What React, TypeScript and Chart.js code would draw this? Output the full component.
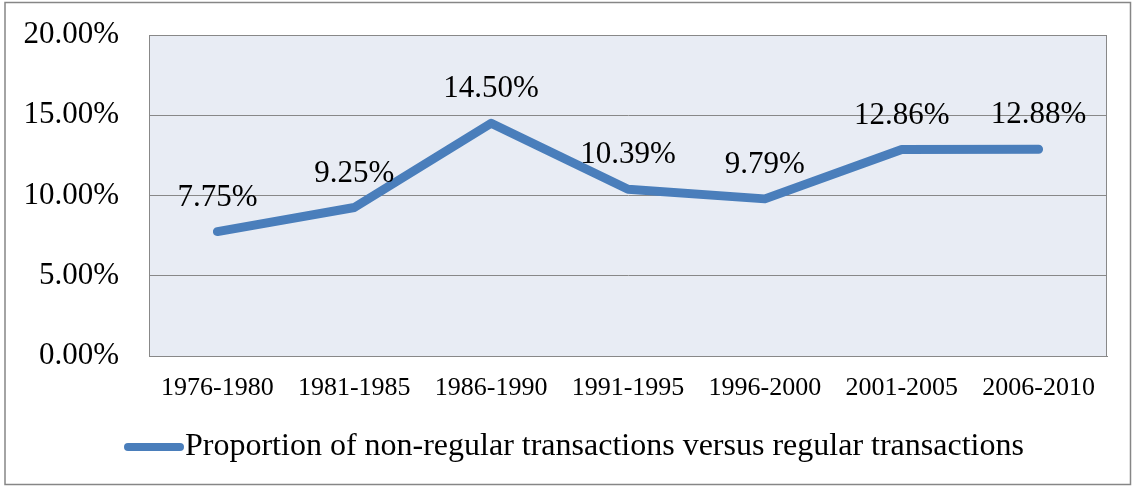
import React, { useEffect, useRef } from "react";
import { Chart, registerables } from "chart.js";

Chart.register(...registerables);

const categories = ["1976-1980", "1981-1985", "1986-1990", "1991-1995", "1996-2000", "2001-2005", "2006-2010"];
const values = [7.75, 9.25, 14.5, 10.39, 9.79, 12.86, 12.88];
const seriesName = "Proportion of non-regular transactions versus regular transactions";
const yTicks = [0, 5, 10, 15, 20];

const LINE_COLOR = "#4A7EBB";
const GRID_COLOR = "#888888";
const PLOT_BG = "#E8ECF4";
const FONT = "'Liberation Serif', 'Times New Roman', serif";

const decorPlugin = {
  id: "decor",
  beforeDraw(chart: any) {
    const { ctx, chartArea } = chart;
    ctx.save();
    ctx.fillStyle = "#ffffff";
    ctx.fillRect(0, 0, chart.width, chart.height);
    ctx.fillStyle = PLOT_BG;
    ctx.fillRect(chartArea.left, chartArea.top, chartArea.right - chartArea.left, chartArea.bottom - chartArea.top);
    ctx.restore();
  },
  afterDraw(chart: any) {
    const { ctx, chartArea } = chart;
    ctx.save();
    // plot border
    ctx.strokeStyle = GRID_COLOR;
    ctx.lineWidth = 1;
    ctx.strokeRect(Math.round(chartArea.left) + 0.5, Math.round(chartArea.top) + 0.5,
      Math.round(chartArea.right - chartArea.left) - 1, Math.round(chartArea.bottom - chartArea.top));
    // outer border
    ctx.strokeStyle = "#868686";
    ctx.lineWidth = 1.5;
    ctx.strokeRect(5, 2.5, 1125.5, 482);
    // data labels
    const meta = chart.getDatasetMeta(0);
    ctx.fillStyle = "#000000";
    ctx.font = `31px ${FONT}`;
    ctx.textAlign = "center";
    ctx.textBaseline = "middle";
    meta.data.forEach((pt: any, i: number) => {
      ctx.fillText(values[i].toFixed(2) + "%", pt.x, pt.y - 34);
    });
    // legend
    const ly = 447;
    ctx.strokeStyle = LINE_COLOR;
    ctx.lineWidth = 8;
    ctx.lineCap = "round";
    ctx.beginPath();
    ctx.moveTo(128, ly);
    ctx.lineTo(180, ly);
    ctx.stroke();
    ctx.textAlign = "left";
    ctx.font = `32px ${FONT}`;
    ctx.fillText(seriesName, 185, ly);
    ctx.restore();
  },
};

export default function App() {
  const ref = useRef<HTMLCanvasElement | null>(null);
  useEffect(() => {
    if (!ref.current) return;
    const chart = new Chart(ref.current, {
      type: "line",
      data: {
        labels: categories,
        datasets: [
          {
            label: seriesName,
            data: values,
            borderColor: LINE_COLOR,
            backgroundColor: LINE_COLOR,
            borderWidth: 9,
            pointRadius: 0,
            borderCapStyle: "round",
            borderJoinStyle: "round",
            tension: 0,
          },
        ],
      },
      options: {
        animation: false,
        responsive: false,
        maintainAspectRatio: false,
        layout: { padding: { left: 0, top: 35, right: 29, bottom: 72 } },
        plugins: { legend: { display: false }, tooltip: { enabled: false } },
        scales: {
          x: {
            offset: true,
            grid: { display: false, drawTicks: false },
            border: { display: true, color: GRID_COLOR },
            ticks: { color: "#000", font: { family: FONT, size: 26 }, padding: 17, maxRotation: 0 },
            afterFit(scale: any) {
              scale.height = 60;
              scale.paddingLeft = 0;
              scale.paddingRight = 0;
            },
          },
          y: {
            min: 0,
            max: 20,
            afterBuildTicks(scale: any) {
              scale.ticks = yTicks.map((v) => ({ value: v }));
            },
            grid: { color: GRID_COLOR, drawTicks: false },
            border: { display: true, color: GRID_COLOR },
            ticks: {
              color: "#000",
              font: { family: FONT, size: 31 },
              padding: 30,
              callback: (v: any) => Number(v).toFixed(2) + "%",
            },
            afterFit(scale: any) {
              scale.width = 149;
              scale.paddingTop = 0;
              scale.paddingBottom = 0;
            },
          },
        },
      },
      plugins: [decorPlugin],
    });
    return () => chart.destroy();
  }, []);
  return (
    <div style={{ position: "absolute", left: 0, top: 0, width: 1136, height: 488 }}>
      <canvas ref={ref} width={1136} height={488} style={{ display: "block", width: 1136, height: 488 }} />
    </div>
  );
}
